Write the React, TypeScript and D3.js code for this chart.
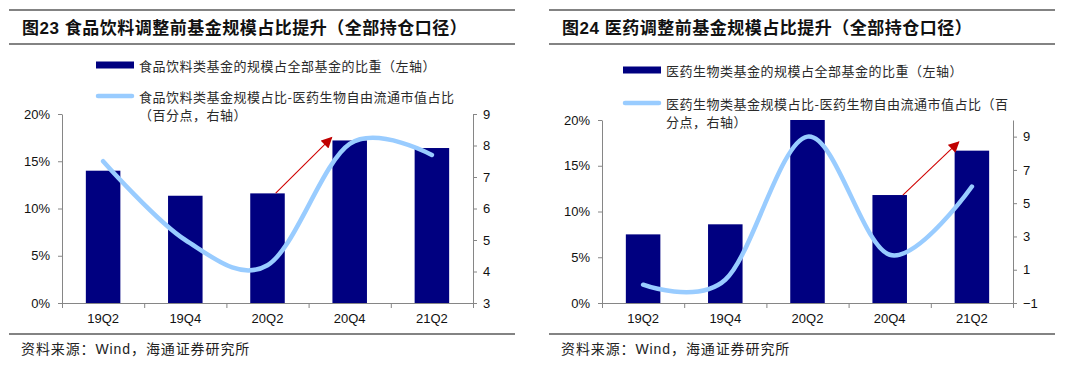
import React, { useRef, useEffect } from "react";
import * as d3 from "d3";

// quarters on the x axis
const categories = ["19Q2", "19Q4", "20Q2", "20Q4", "21Q2"];

// fig 23: food & beverage funds
const foodShare = [14.0, 11.35, 11.6, 17.2, 16.4]; // % of all funds (left axis)
const foodGap = [7.5, 5.0, 4.2, 8.05, 7.7]; // pct points (right axis)

// fig 24: pharma funds
const pharmaShare = [7.5, 8.6, 20.0, 11.8, 16.65];
const pharmaGap = [0.1, 0.4, 9.0, 1.9, 6.0];

const leftTicks = [0, 5, 10, 15, 20];
const foodRightTicks = [3, 4, 5, 6, 7, 8, 9];
const pharmaRightTicks = [-1, 1, 3, 5, 7, 9];

// annotation arrows: [category index, left-axis value]
const foodArrow = [[2.1, 11.62], [2.78, 17.5]];
const pharmaArrow = [[3.16, 11.78], [3.84, 17.6]];

const SANS = "'Liberation Sans', Arial, 'Noto Sans CJK SC', sans-serif";
const CJK = "'Noto Sans CJK SC', 'Liberation Sans', sans-serif";
const NAVY = "#000080";
const SKY = "#99CCFF";
const GREY = "#868686";

const panels = [
  {
    id: "food",
    dx: 0,
    title: "图23 食品饮料调整前基金规模占比提升（全部持仓口径）",
    share: foodShare,
    gap: foodGap,
    rightDomain: [3, 9],
    rightTicks: foodRightTicks,
    top: 114,
    legend: [
      "食品饮料类基金的规模占全部基金的比重（左轴）",
      "食品饮料类基金规模占比-医药生物自由流通市值占比",
      "（百分点，右轴）",
    ],
    legendX: 96,
    legendY: [65, 96, 114],
    arrow: foodArrow,
  },
  {
    id: "pharma",
    dx: 540,
    title: "图24 医药调整前基金规模占比提升（全部持仓口径）",
    share: pharmaShare,
    gap: pharmaGap,
    rightDomain: [-1, 10],
    rightTicks: pharmaRightTicks,
    top: 120,
    legend: [
      "医药生物类基金的规模占全部基金的比重（左轴）",
      "医药生物类基金规模占比-医药生物自由流通市值占比（百",
      "分点，右轴）",
    ],
    legendX: 83,
    legendY: [70, 103, 121],
    arrow: pharmaArrow,
  },
];

function drawPanel(svg, p) {
  const g = svg.append("g").attr("transform", `translate(${p.dx},0)`);
  const left = 62;
  const right = 473;
  const bottom = 303;

  // frame rules
  [10, 44, 334].forEach((y) =>
    g
      .append("line")
      .attr("x1", 9)
      .attr("x2", 515)
      .attr("y1", y)
      .attr("y2", y)
      .attr("stroke", "#5a5a5a")
      .attr("stroke-width", 1.5)
  );

  g.append("text")
    .attr("x", 22)
    .attr("y", 28)
    .attr("dominant-baseline", "central")
    .attr("font-family", SANS)
    .attr("font-size", 17)
    .attr("letter-spacing", 0.5)
    .attr("font-weight", "bold")
    .attr("fill", "#111")
    .text(p.title);

  g.append("text")
    .attr("x", 21)
    .attr("y", 349)
    .attr("dominant-baseline", "central")
    .attr("font-family", SANS)
    .attr("font-size", 14)
    .attr("letter-spacing", 0.9)
    .attr("fill", "#222")
    .text("资料来源：Wind，海通证券研究所");

  const x = d3
    .scaleBand()
    .domain(categories)
    .range([left, right])
    .paddingInner(0.58)
    .paddingOuter(0.29);
  const xi = d3
    .scaleLinear()
    .domain([-0.5, categories.length - 0.5])
    .range([left, right]);
  const yL = d3.scaleLinear().domain([0, 20]).range([bottom, p.top]);
  const yR = d3.scaleLinear().domain(p.rightDomain).range([bottom, p.top]);

  const styleAxis = (ax) => {
    ax.select(".domain").attr("stroke", GREY);
    ax.selectAll(".tick line").attr("stroke", GREY);
    ax.selectAll("text")
      .attr("font-family", SANS)
      .attr("font-size", 13)
      .attr("fill", "#111");
  };

  // bars
  g.append("g")
    .selectAll("rect")
    .data(p.share)
    .join("rect")
    .attr("x", (d, i) => x(categories[i]))
    .attr("width", x.bandwidth())
    .attr("y", (d) => yL(d))
    .attr("height", (d) => bottom - yL(d))
    .attr("fill", NAVY);

  // axes
  g.append("g")
    .attr("transform", `translate(${left},0)`)
    .call(
      d3
        .axisLeft(yL)
        .tickValues(leftTicks)
        .tickFormat((d) => `${d}%`)
        .tickSize(4)
        .tickSizeOuter(0)
        .tickPadding(8)
    )
    .call(styleAxis);

  g.append("g")
    .attr("transform", `translate(${right},0)`)
    .call(
      d3
        .axisRight(yR)
        .tickValues(p.rightTicks)
        .tickFormat(d3.format("d"))
        .tickSize(4)
        .tickSizeOuter(0)
        .tickPadding(6)
    )
    .call(styleAxis);

  g.append("g")
    .attr("transform", `translate(0,${bottom})`)
    .call(
      d3
        .axisBottom(xi)
        .tickValues(d3.range(-0.5, categories.length, 1))
        .tickFormat(() => "")
        .tickSize(5)
        .tickSizeOuter(0)
    )
    .call(styleAxis);

  g.append("g")
    .attr("transform", `translate(0,${bottom})`)
    .call(d3.axisBottom(x).tickSize(0).tickPadding(11))
    .call((ax) => ax.select(".domain").remove())
    .call(styleAxis);

  // smoothed line on right axis
  const line = d3
    .line()
    .x((d, i) => xi(i))
    .y((d) => yR(d))
    .curve(d3.curveCardinal);

  g.append("path")
    .attr("d", line(p.gap))
    .attr("fill", "none")
    .attr("stroke", SKY)
    .attr("stroke-width", 4.5)
    .attr("stroke-linecap", "round");

  // red arrow
  const defs = g.append("defs");
  defs
    .append("marker")
    .attr("id", `arrow-${p.id}`)
    .attr("viewBox", "0 0 10 10")
    .attr("refX", 9)
    .attr("refY", 5)
    .attr("markerUnits", "userSpaceOnUse")
    .attr("markerWidth", 12)
    .attr("markerHeight", 11)
    .attr("orient", "auto")
    .append("path")
    .attr("d", "M0,0L10,5L0,10z")
    .attr("fill", "#C00000");

  const [a0, a1] = p.arrow;
  g.append("line")
    .attr("x1", xi(a0[0]))
    .attr("y1", yL(a0[1]))
    .attr("x2", xi(a1[0]))
    .attr("y2", yL(a1[1]))
    .attr("stroke", "#D00000")
    .attr("stroke-width", 1.1)
    .attr("marker-end", `url(#arrow-${p.id})`);

  // legend
  const lg = g.append("g");
  lg.append("rect")
    .attr("x", p.legendX)
    .attr("y", p.legendY[0] - 3.5)
    .attr("width", 38)
    .attr("height", 7)
    .attr("fill", NAVY);
  lg.append("line")
    .attr("x1", p.legendX + 2)
    .attr("x2", p.legendX + 36)
    .attr("y1", p.legendY[1])
    .attr("y2", p.legendY[1])
    .attr("stroke", SKY)
    .attr("stroke-width", 4.5)
    .attr("stroke-linecap", "round");
  lg.selectAll("text")
    .data(p.legend)
    .join("text")
    .attr("x", p.legendX + 43)
    .attr("y", (d, i) => p.legendY[i])
    .attr("dominant-baseline", "central")
    .attr("font-family", CJK)
    .attr("font-size", 13)
    .attr("letter-spacing", 0.5)
    .attr("fill", "#2a2a2a")
    .text((d) => d);
}

export default function App() {
  const svgRef = useRef<SVGSVGElement>(null);

  useEffect(() => {
    const svg = d3.select(svgRef.current);
    svg.selectAll("*").remove();
    panels.forEach((p) => drawPanel(svg, p));
  }, []);

  return (
    <svg
      ref={svgRef}
      width={1080}
      height={372}
      style={{ position: "absolute", left: 0, top: 0, background: "#fff" }}
    ></svg>
  );
}
